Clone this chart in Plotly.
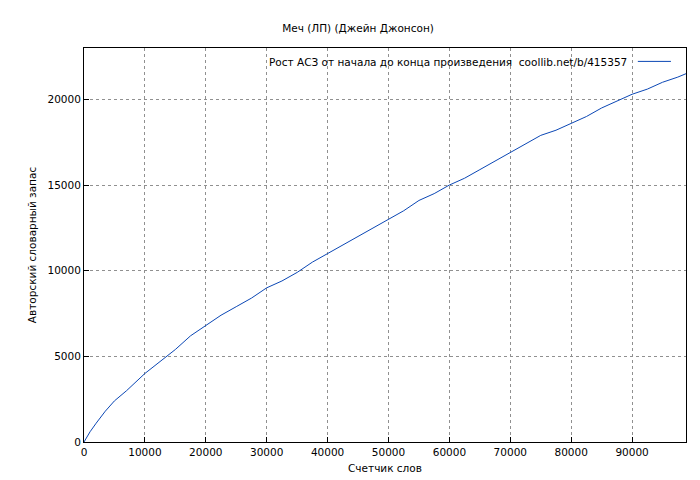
import plotly.graph_objects as go

words = [0, 1000, 2000, 3500, 5000, 7000, 10000, 12500, 15000, 17500, 20000, 22500, 25000, 27500, 30000, 32500, 35000, 37500, 40000, 42500, 45000, 47500, 50000, 52500, 55000, 57500, 60000, 62500, 65000, 67500, 70000, 72500, 75000, 77500, 80000, 82500, 85000, 87500, 90000, 92500, 95000, 97500, 98850]
vocab = [0, 600, 1100, 1800, 2400, 3000, 4000, 4700, 5400, 6200, 6800, 7400, 7900, 8400, 9000, 9400, 9900, 10500, 11000, 11500, 12000, 12500, 13000, 13500, 14100, 14500, 15000, 15400, 15900, 16400, 16900, 17400, 17900, 18200, 18600, 19000, 19500, 19900, 20300, 20600, 21000, 21300, 21500]

fig = go.Figure(go.Scatter(x=words, y=vocab, mode="lines", line=dict(color="#0b47b5", width=1), showlegend=False))
grid = dict(showgrid=True, gridcolor="#909090", griddash="dot", gridwidth=1, zeroline=False, automargin=False,
            showline=True, mirror=True, linecolor="black", linewidth=1, ticks="inside", ticklen=5,
            tickcolor="black", tickformat="d", tickfont=dict(size=10.5, color="black"))
fig.update_layout(
    width=700, height=480, paper_bgcolor="white", plot_bgcolor="white",
    margin=dict(l=76, r=22, t=40, b=46),
    font=dict(family="DejaVu Sans", size=10.5, color="black"),
    title=dict(text="Меч (ЛП) (Джейн Джонсон)", x=0.5, xanchor="center", y=0.965, font=dict(size=10.5)),
    xaxis=dict(range=[0, 98850], dtick=10000, title=dict(text="Счетчик слов", font=dict(size=10.5), standoff=8), **grid),
    yaxis=dict(range=[0, 23000], dtick=5000, title=dict(text="Авторский словарный запас", font=dict(size=10.5), standoff=8), **grid),
)
fig.add_annotation(x=0.905, y=0.985, xref="paper", yref="paper", xanchor="right", yanchor="top",
                   text="Рост АСЗ от начала до конца произведения  coollib.net/b/415357", showarrow=False, font=dict(size=10.5))
fig.add_shape(type="line", xref="paper", yref="paper", x0=0.92, x1=0.975, y0=0.966, y1=0.966, line=dict(color="#0b47b5", width=1))
fig.write_html("out.html")
